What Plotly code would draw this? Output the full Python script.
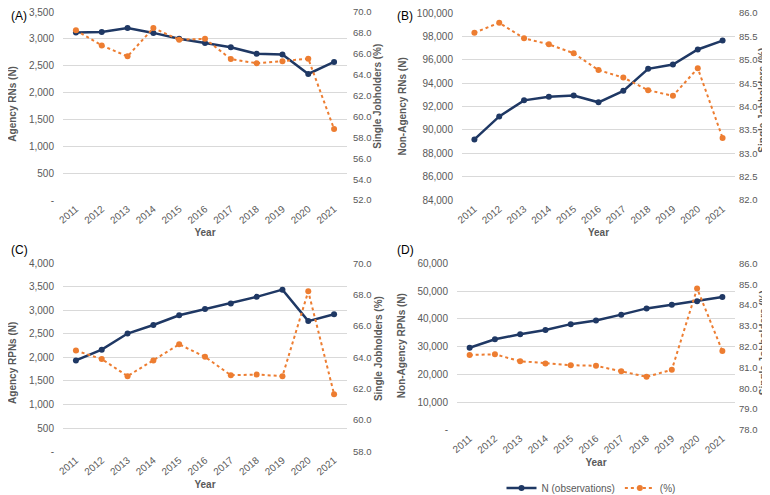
import plotly.graph_objects as go

years = [str(y) for y in range(2011, 2022)]

# Panel A: Agency RNs
a_n = [3118, 3130, 3202, 3112, 3003, 2924, 2845, 2724, 2712, 2348, 2572]
a_pct = [68.25, 66.8, 65.76, 68.47, 67.35, 67.44, 65.5, 65.1, 65.3, 65.54, 58.8]
# Panel B: Non-Agency RNs
b_n = [89193, 91158, 92533, 92842, 92954, 92365, 93347, 95228, 95593, 96884, 97642]
b_pct = [85.58, 85.79, 85.46, 85.33, 85.14, 84.78, 84.62, 84.35, 84.23, 84.82, 83.33]
# Panel C: Agency RPNs
c_n = [1937, 2167, 2509, 2690, 2899, 3031, 3150, 3289, 3443, 2774, 2920]
c_pct = [64.44, 63.9, 62.81, 63.81, 64.84, 64.04, 62.87, 62.91, 62.81, 68.22, 61.66]
# Panel D: Non-Agency RPNs
d_n = [29586, 32663, 34438, 35976, 38107, 39408, 41538, 43787, 45089, 46391, 47929]
d_pct = [81.6, 81.63, 81.3, 81.19, 81.11, 81.08, 80.82, 80.55, 80.89, 84.79, 81.79]

panels = [
    dict(label="(A)", n=a_n, pct=a_pct, ytitle="Agency RNs (N)",
         lrange=(0, 3500, 500), rrange=(52, 70, 2),
         px=(55, 339), py=(4, 195), lt=(12, 97), rt=(377, 90), rstand=5),
    dict(label="(B)", n=b_n, pct=b_pct, ytitle="Non-Agency RNs (N)",
         lrange=(84000, 100000, 2000), rrange=(82, 86, 0.5),
         px=(454, 727), py=(5, 195), lt=(402, 100), rt=(762, 94), rstand=3),
    dict(label="(C)", n=c_n, pct=c_pct, ytitle="Agency RPNs (N)",
         lrange=(0, 4000, 500), rrange=(58, 70, 2),
         px=(55, 339), py=(259, 450), lt=(12, 360), rt=(377, 346), rstand=5),
    dict(label="(D)", n=d_n, pct=d_pct, ytitle="Non-Agency RPNs (N)",
         lrange=(0, 60000, 10000), rrange=(78, 86, 1),
         px=(449, 727), py=(259, 428), lt=(400, 343), rt=(762, 340), rstand=3),
]

W, H = 770, 495
NAVY = "#1F3864"
ORANGE = "#ED7D31"
GRAY = "#595959"
FONT = "Liberation Sans, Arial, sans-serif"
TITLE_SHIFT = 7  # compensates the offset of rotated annotations

fig = go.Figure()
layout = dict(
    width=W, height=H, margin=dict(l=0, r=0, t=0, b=0),
    paper_bgcolor="white", plot_bgcolor="white",
    font=dict(family=FONT, color=GRAY, size=10),
    showlegend=True,
    legend=dict(orientation="h", x=583 / W, xanchor="center", y=1 - 487 / H, yanchor="middle",
                font=dict(size=10, color=GRAY), bgcolor="rgba(0,0,0,0)"),
    annotations=[],
)

def frange(a, b, s):
    out = []
    v = a
    while v <= b + 1e-9:
        out.append(round(v, 6))
        v += s
    return out

def vtitle(text, x, y):
    return dict(text=f"<b>{text}</b>", xref="paper", yref="paper", x=(x - TITLE_SHIFT) / W, y=1 - y / H,
                xanchor="center", yanchor="middle", textangle=-90, showarrow=False,
                font=dict(size=10, color=GRAY, family=FONT))

for i, p in enumerate(panels):
    k = i + 1
    xa = "x" if k == 1 else f"x{k}"
    yl = f"y{2*k-1}" if k > 1 else "y"
    yr = f"y{2*k}"
    xname = "xaxis" if k == 1 else f"xaxis{k}"
    ylname = "yaxis" if k == 1 else f"yaxis{2*k-1}"
    yrname = f"yaxis{2*k}"

    fig.add_trace(go.Scatter(x=years, y=p["n"], xaxis=xa, yaxis=yl, mode="lines+markers",
                             name="N (observations)", line=dict(color=NAVY, width=2.5),
                             marker=dict(size=6, color=NAVY), showlegend=(k == 4),
                             legendrank=1))
    fig.add_trace(go.Scatter(x=years, y=p["pct"], xaxis=xa, yaxis=yr, mode="lines+markers",
                             name="(%)", line=dict(color=ORANGE, width=2, dash="dot"),
                             marker=dict(size=6, color=ORANGE), showlegend=(k == 4),
                             legendrank=2))

    x0, x1 = p["px"]
    y0, y1 = p["py"]
    dom_x = [x0 / W, x1 / W]
    dom_y = [1 - y1 / H, 1 - y0 / H]

    lo, hi, st = p["lrange"]
    lvals = frange(lo, hi, st)
    ltext = ["-" if v == 0 else f"{int(v):,}" for v in lvals]
    rlo, rhi, rst = p["rrange"]
    rvals = frange(rlo, rhi, rst)
    rtext = [f"{v:.1f}" for v in rvals]
    leps = st * 0.004
    reps = rst * 0.004

    layout[xname] = dict(domain=dom_x, anchor=yl, type="category", range=[-0.5, 10.5],
                         tickangle=-40, showgrid=False, showline=False, ticks="",
                         tickfont=dict(size=10, color=GRAY),
                         title=dict(text="<b>Year</b>", font=dict(size=10, color=GRAY), standoff=4),
                         automargin=False)
    layout[ylname] = dict(domain=dom_y, anchor=xa, range=[lo - leps, hi + leps], tickvals=lvals, ticktext=ltext,
                          showgrid=True, gridcolor="#D9D9D9", gridwidth=1, zeroline=False,
                          showline=False, ticks="", tickfont=dict(size=10, color=GRAY),
                          ticklabelstandoff=8, ticklabeloverflow="allow", automargin=False)
    layout[yrname] = dict(domain=dom_y, anchor=xa, overlaying=yl, side="right",
                          range=[rlo - reps, rhi + reps], tickvals=rvals, ticktext=rtext,
                          showgrid=False, zeroline=False, showline=False, ticks="",
                          tickfont=dict(size=9.5, color=GRAY), ticklabelstandoff=p["rstand"],
                          ticklabeloverflow="allow", automargin=False)

    layout["annotations"].append(vtitle(p["ytitle"], *p["lt"]))
    layout["annotations"].append(vtitle("Single Jobholders (%)", *p["rt"]))
    layout["annotations"].append(dict(text=p["label"], xref="paper", yref="paper",
                                      x=(1 if k in (1, 3) else 387) / W,
                                      y=1 - (8 if k in (1, 2) else 245) / H,
                                      xanchor="left", yanchor="middle", showarrow=False,
                                      font=dict(size=12, color="black", family=FONT)))

fig.update_layout(**layout)
fig.write_html("out.html")
